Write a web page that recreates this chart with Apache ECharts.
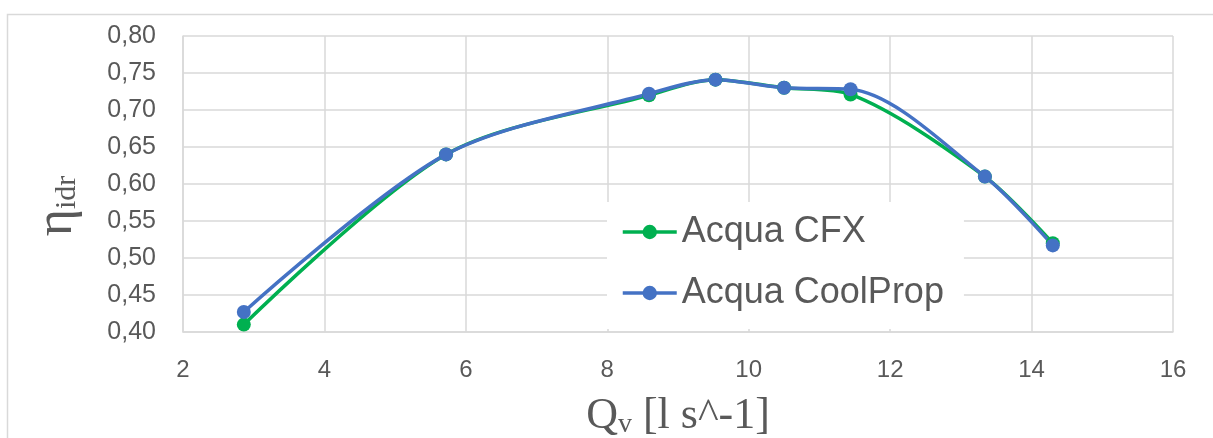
<!DOCTYPE html>
<html>
<head>
<meta charset="utf-8">
<script src="https://cdn.jsdelivr.net/npm/echarts@6/dist/echarts.min.js"></script>
<style>
  html, body { margin: 0; padding: 0; background: #fff; }
  #chart { width: 1213px; height: 438px; }
</style>
</head>
<body>
<div id="chart"></div>
<script>
// portata [l/s] e rendimento idraulico
var portata = [2.86, 5.72, 8.59, 9.53, 10.5, 11.44, 13.34, 14.3]
var etaCFX = [0.410, 0.640, 0.720, 0.741, 0.730, 0.721, 0.610, 0.520]
var etaCoolProp = [0.427, 0.640, 0.722, 0.741, 0.730, 0.728, 0.610, 0.517]
var nomiSerie = ['Acqua CFX', 'Acqua CoolProp']
var colori = ['#00B050', '#4472C4']

function coppie(xs, ys) {
  return xs.map(function (x, i) { return [x, ys[i]] })
}

var myChart = echarts.init(document.getElementById('chart'))

var gridColor = '#d9d9d9'
var option = {
  animation: false,
  graphic: [{
    type: 'rect',
    shape: { x: 7.5, y: 14.5, width: 1240, height: 460 },
    style: { fill: 'none', stroke: gridColor, lineWidth: 1.5 },
    silent: true
  }],
  grid: { left: 183, right: 40, top: 36, bottom: 106, outerBoundsMode: 'none', containLabel: false },
  legend: {
    orient: 'vertical',
    left: 607,
    top: 202,
    padding: [12, 20, 18, 14],
    backgroundColor: '#fff',
    itemWidth: 54,
    itemHeight: 18,
    itemGap: 25,
    data: nomiSerie,
    lineStyle: { width: 3.5 },
    textStyle: { fontFamily: 'Liberation Sans', fontSize: 36, color: '#595959' }
  },
  xAxis: {
    type: 'value',
    min: 2, max: 16, interval: 2,
    name: '{q|Q}{sub|v}{q| [l s^-1]}',
    nameLocation: 'middle',
    nameGap: 61,
    nameTextStyle: {
      rich: {
        q: { fontFamily: 'Liberation Serif', fontSize: 44, color: '#595959' },
        sub: { fontFamily: 'Liberation Serif', fontSize: 28, color: '#595959', padding: [18, 0, 0, 0] }
      }
    },
    axisLine: { lineStyle: { color: gridColor, width: 1.5 } },
    axisTick: { show: false },
    splitLine: { show: true, lineStyle: { color: gridColor, width: 1.5 } },
    axisLabel: { fontFamily: 'Liberation Sans', fontSize: 24, color: '#595959', margin: 26 }
  },
  yAxis: {
    type: 'value',
    min: 0.4, max: 0.8, interval: 0.05,
    name: '{e|η}{sub|idr}',
    nameLocation: 'middle',
    nameGap: 100,
    nameRotate: 90,
    nameTextStyle: {
      padding: [0, 44, 0, 0],
      rich: {
        e: { fontFamily: 'Liberation Serif', fontSize: 52, color: '#595959' },
        sub: { fontFamily: 'Liberation Serif', fontSize: 30, color: '#595959', padding: [20, 0, 0, 0] }
      }
    },
    axisLine: { show: true, lineStyle: { color: gridColor, width: 1.5 } },
    axisTick: { show: false },
    splitLine: { show: true, lineStyle: { color: gridColor, width: 1.5 } },
    axisLabel: {
      fontFamily: 'Liberation Sans', fontSize: 25, color: '#595959', margin: 27,
      formatter: function (v) { return v.toFixed(2).replace('.', ',') }
    }
  },
  series: [
    {
      name: nomiSerie[0],
      type: 'line',
      smooth: 0.3,
      data: coppie(portata, etaCFX),
      symbol: 'circle',
      symbolSize: 14,
      color: colori[0],
      lineStyle: { width: 3.5 }
    },
    {
      name: nomiSerie[1],
      type: 'line',
      smooth: 0.3,
      data: coppie(portata, etaCoolProp),
      symbol: 'circle',
      symbolSize: 14,
      color: colori[1],
      lineStyle: { width: 3.5 }
    }
  ]
}
myChart.setOption(option)
</script>
</body>
</html>
